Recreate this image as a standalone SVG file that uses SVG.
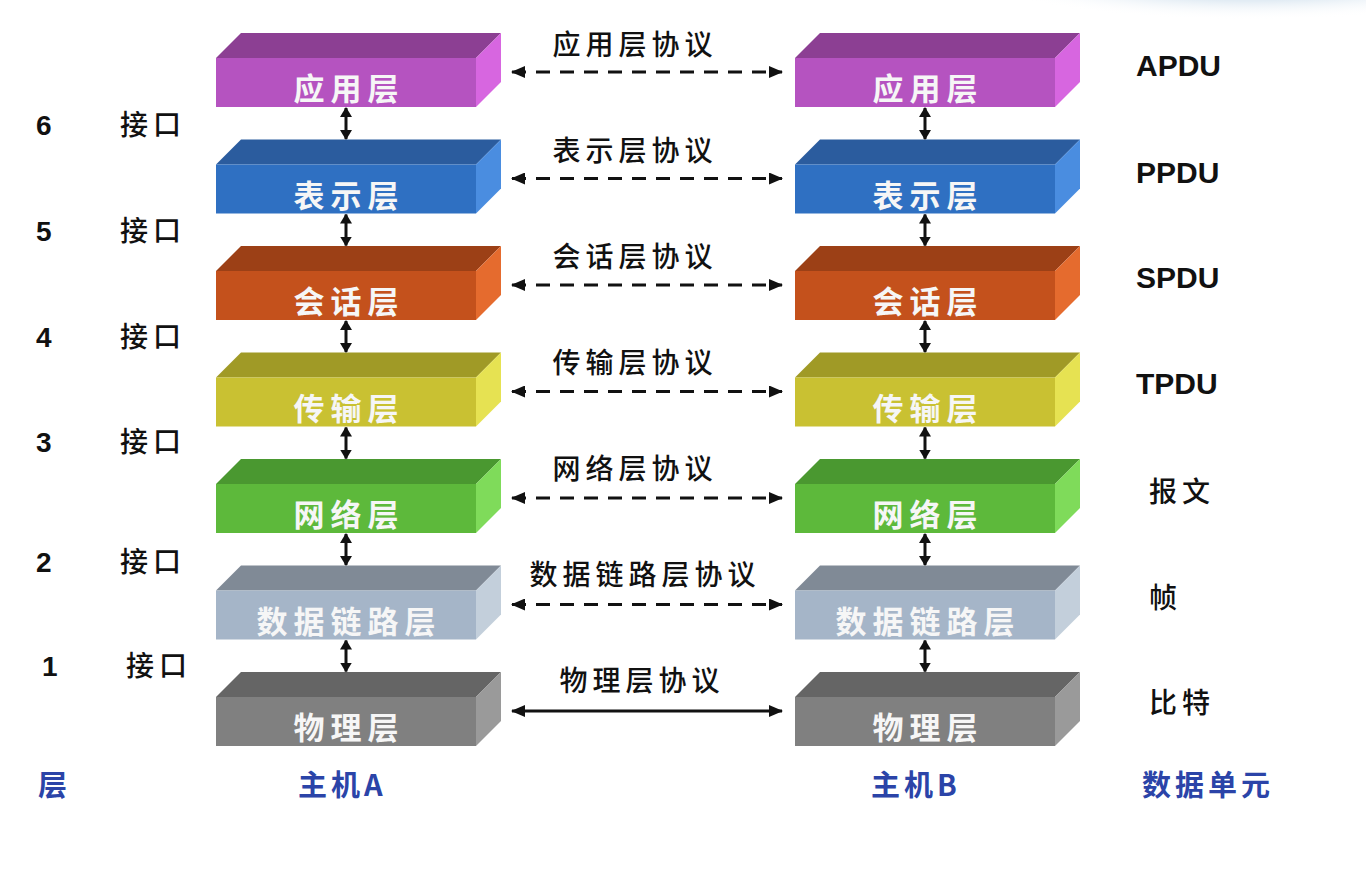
<svg xmlns="http://www.w3.org/2000/svg" width="1366" height="890" viewBox="0 0 1366 890">
<style>
.lbl{font-family:"Noto Sans CJK SC","Noto Sans",sans-serif;font-weight:700;font-size:31px;fill:#f6f6f6;text-anchor:middle;letter-spacing:6px}
.proto{font-family:"Noto Sans CJK SC","Noto Sans",sans-serif;font-weight:500;font-size:28px;fill:#111;text-anchor:middle;letter-spacing:5px}
.itf{font-family:"Noto Sans CJK SC","Noto Sans",sans-serif;font-weight:500;font-size:28px;fill:#111;letter-spacing:5px}
.num{font-family:"Liberation Sans",Arial,sans-serif;font-weight:700;font-size:28px;fill:#111}
.pdu{font-family:"Liberation Sans",Arial,sans-serif;font-weight:700;font-size:30px;fill:#111}
.unit{font-family:"Noto Sans CJK SC","Noto Sans",sans-serif;font-weight:500;font-size:28px;fill:#111;letter-spacing:5px}
.foot{font-family:"Noto Sans CJK SC","Liberation Sans",sans-serif;font-weight:700;font-size:29px;fill:#2b44a8;letter-spacing:4px}
.dash{stroke:#111;stroke-width:3;fill:none;stroke-dasharray:14 10;marker-start:url(#ah);marker-end:url(#ah)}
.solid{stroke:#111;stroke-width:3;fill:none;marker-start:url(#ah);marker-end:url(#ah)}
.vert{stroke:#111;stroke-width:3;fill:none;marker-start:url(#vh);marker-end:url(#vh)}
</style>
<defs>
<marker id="ah" viewBox="0 0 14 12" refX="13" refY="6" markerWidth="14" markerHeight="12" markerUnits="userSpaceOnUse" orient="auto-start-reverse"><path d="M0,0 L14,6 L0,12 Z" fill="#111"/></marker>
<marker id="vh" viewBox="0 0 10 12" refX="9" refY="6" markerWidth="10" markerHeight="12" markerUnits="userSpaceOnUse" orient="auto-start-reverse"><path d="M0,0 L10,6 L0,12 Z" fill="#111"/></marker>
<radialGradient id="glow" cx="0.5" cy="0.5" r="0.5"><stop offset="0.6" stop-color="#e2ecf4"/><stop offset="1" stop-color="#ffffff" stop-opacity="0"/></radialGradient>
</defs>
<rect width="1366" height="890" fill="#ffffff"/>
<ellipse cx="1250" cy="-28" rx="280" ry="48" fill="url(#glow)"/>

<!-- Host A -->
<g id="A-app">
<polygon points="216,58 241,33 501,33 476,58" fill="#8c3f93"/>
<polygon points="476,58 501,33 501,82 476,107" fill="#d766e0"/>
<rect x="216" y="58" width="260" height="49" fill="#b553c0"/>
<text class="lbl" x="349" y="100">应用层</text>
</g>
<g id="A-pres">
<polygon points="216,164.5 241,139.5 501,139.5 476,164.5" fill="#2b5c9e"/>
<polygon points="476,164.5 501,139.5 501,188.5 476,213.5" fill="#4a8de0"/>
<rect x="216" y="164.5" width="260" height="49" fill="#2f70c2"/>
<text class="lbl" x="349" y="206.5">表示层</text>
</g>
<g id="A-sess">
<polygon points="216,271 241,246 501,246 476,271" fill="#9c4016"/>
<polygon points="476,271 501,246 501,295 476,320" fill="#e56b2e"/>
<rect x="216" y="271" width="260" height="49" fill="#c4511c"/>
<text class="lbl" x="349" y="313">会话层</text>
</g>
<g id="A-trans">
<polygon points="216,377.5 241,352.5 501,352.5 476,377.5" fill="#a09a26"/>
<polygon points="476,377.5 501,352.5 501,401.5 476,426.5" fill="#e6e252"/>
<rect x="216" y="377.5" width="260" height="49" fill="#c9c132"/>
<text class="lbl" x="349" y="419.5">传输层</text>
</g>
<g id="A-net">
<polygon points="216,484 241,459 501,459 476,484" fill="#4a9830"/>
<polygon points="476,484 501,459 501,508 476,533" fill="#7fdb5a"/>
<rect x="216" y="484" width="260" height="49" fill="#5db93b"/>
<text class="lbl" x="349" y="526">网络层</text>
</g>
<g id="A-link">
<polygon points="216,590.5 241,565.5 501,565.5 476,590.5" fill="#808a96"/>
<polygon points="476,590.5 501,565.5 501,614.5 476,639.5" fill="#c3cfdb"/>
<rect x="216" y="590.5" width="260" height="49" fill="#a5b5c8"/>
<text class="lbl" x="349" y="632.5">数据链路层</text>
</g>
<g id="A-phys">
<polygon points="216,697 241,672 501,672 476,697" fill="#656565"/>
<polygon points="476,697 501,672 501,721 476,746" fill="#9a9a9a"/>
<rect x="216" y="697" width="260" height="49" fill="#808080"/>
<text class="lbl" x="349" y="739">物理层</text>
</g>

<!-- Host B -->
<g id="B-app">
<polygon points="795,58 820,33 1080,33 1055,58" fill="#8c3f93"/>
<polygon points="1055,58 1080,33 1080,82 1055,107" fill="#d766e0"/>
<rect x="795" y="58" width="260" height="49" fill="#b553c0"/>
<text class="lbl" x="928" y="100">应用层</text>
</g>
<g id="B-pres">
<polygon points="795,164.5 820,139.5 1080,139.5 1055,164.5" fill="#2b5c9e"/>
<polygon points="1055,164.5 1080,139.5 1080,188.5 1055,213.5" fill="#4a8de0"/>
<rect x="795" y="164.5" width="260" height="49" fill="#2f70c2"/>
<text class="lbl" x="928" y="206.5">表示层</text>
</g>
<g id="B-sess">
<polygon points="795,271 820,246 1080,246 1055,271" fill="#9c4016"/>
<polygon points="1055,271 1080,246 1080,295 1055,320" fill="#e56b2e"/>
<rect x="795" y="271" width="260" height="49" fill="#c4511c"/>
<text class="lbl" x="928" y="313">会话层</text>
</g>
<g id="B-trans">
<polygon points="795,377.5 820,352.5 1080,352.5 1055,377.5" fill="#a09a26"/>
<polygon points="1055,377.5 1080,352.5 1080,401.5 1055,426.5" fill="#e6e252"/>
<rect x="795" y="377.5" width="260" height="49" fill="#c9c132"/>
<text class="lbl" x="928" y="419.5">传输层</text>
</g>
<g id="B-net">
<polygon points="795,484 820,459 1080,459 1055,484" fill="#4a9830"/>
<polygon points="1055,484 1080,459 1080,508 1055,533" fill="#7fdb5a"/>
<rect x="795" y="484" width="260" height="49" fill="#5db93b"/>
<text class="lbl" x="928" y="526">网络层</text>
</g>
<g id="B-link">
<polygon points="795,590.5 820,565.5 1080,565.5 1055,590.5" fill="#808a96"/>
<polygon points="1055,590.5 1080,565.5 1080,614.5 1055,639.5" fill="#c3cfdb"/>
<rect x="795" y="590.5" width="260" height="49" fill="#a5b5c8"/>
<text class="lbl" x="928" y="632.5">数据链路层</text>
</g>
<g id="B-phys">
<polygon points="795,697 820,672 1080,672 1055,697" fill="#656565"/>
<polygon points="1055,697 1080,672 1080,721 1055,746" fill="#9a9a9a"/>
<rect x="795" y="697" width="260" height="49" fill="#808080"/>
<text class="lbl" x="928" y="739">物理层</text>
</g>

<!-- Connectors -->
<g id="connectors">
<line class="dash" x1="512" y1="72" x2="782" y2="72"/>
<line class="dash" x1="512" y1="178.5" x2="782" y2="178.5"/>
<line class="dash" x1="512" y1="285" x2="782" y2="285"/>
<line class="dash" x1="512" y1="391.5" x2="782" y2="391.5"/>
<line class="dash" x1="512" y1="498" x2="782" y2="498"/>
<line class="dash" x1="512" y1="604.5" x2="782" y2="604.5"/>
<line class="solid" x1="512" y1="711" x2="782" y2="711"/>
<line class="vert" x1="346" y1="108" x2="346" y2="139"/>
<line class="vert" x1="346" y1="214.5" x2="346" y2="245.5"/>
<line class="vert" x1="346" y1="321" x2="346" y2="352"/>
<line class="vert" x1="346" y1="427.5" x2="346" y2="458.5"/>
<line class="vert" x1="346" y1="534" x2="346" y2="565"/>
<line class="vert" x1="346" y1="640.5" x2="346" y2="671.5"/>
<line class="vert" x1="925" y1="108" x2="925" y2="139"/>
<line class="vert" x1="925" y1="214.5" x2="925" y2="245.5"/>
<line class="vert" x1="925" y1="321" x2="925" y2="352"/>
<line class="vert" x1="925" y1="427.5" x2="925" y2="458.5"/>
<line class="vert" x1="925" y1="534" x2="925" y2="565"/>
<line class="vert" x1="925" y1="640.5" x2="925" y2="671.5"/>
</g>

<g id="protocol-labels">
<text class="proto" x="635" y="55">应用层协议</text>
<text class="proto" x="635" y="161">表示层协议</text>
<text class="proto" x="635" y="267">会话层协议</text>
<text class="proto" x="635" y="373">传输层协议</text>
<text class="proto" x="635" y="479">网络层协议</text>
<text class="proto" x="645" y="585">数据链路层协议</text>
<text class="proto" x="642" y="691">物理层协议</text>
</g>

<g id="interfaces">
<text class="num" x="36" y="135">6</text><text class="itf" x="120" y="135">接口</text>
<text class="num" x="36" y="241">5</text><text class="itf" x="120" y="241">接口</text>
<text class="num" x="36" y="347">4</text><text class="itf" x="120" y="347">接口</text>
<text class="num" x="36" y="452">3</text><text class="itf" x="120" y="452">接口</text>
<text class="num" x="36" y="572">2</text><text class="itf" x="120" y="572">接口</text>
<text class="num" x="42" y="676">1</text><text class="itf" x="126" y="676">接口</text>
</g>

<g id="data-units">
<text class="pdu" x="1136" y="76">APDU</text>
<text class="pdu" x="1136" y="183">PPDU</text>
<text class="pdu" x="1136" y="288">SPDU</text>
<text class="pdu" x="1136" y="394">TPDU</text>
<text class="unit" x="1149" y="502">报文</text>
<text class="unit" x="1149" y="608">帧</text>
<text class="unit" x="1149" y="713">比特</text>
</g>

<g id="footer">
<text class="foot" x="38" y="796">层</text>
<text class="foot" x="298" y="796">主机A</text>
<text class="foot" x="871" y="796">主机B</text>
<text class="foot" x="1142" y="796">数据单元</text>
</g>
</svg>
